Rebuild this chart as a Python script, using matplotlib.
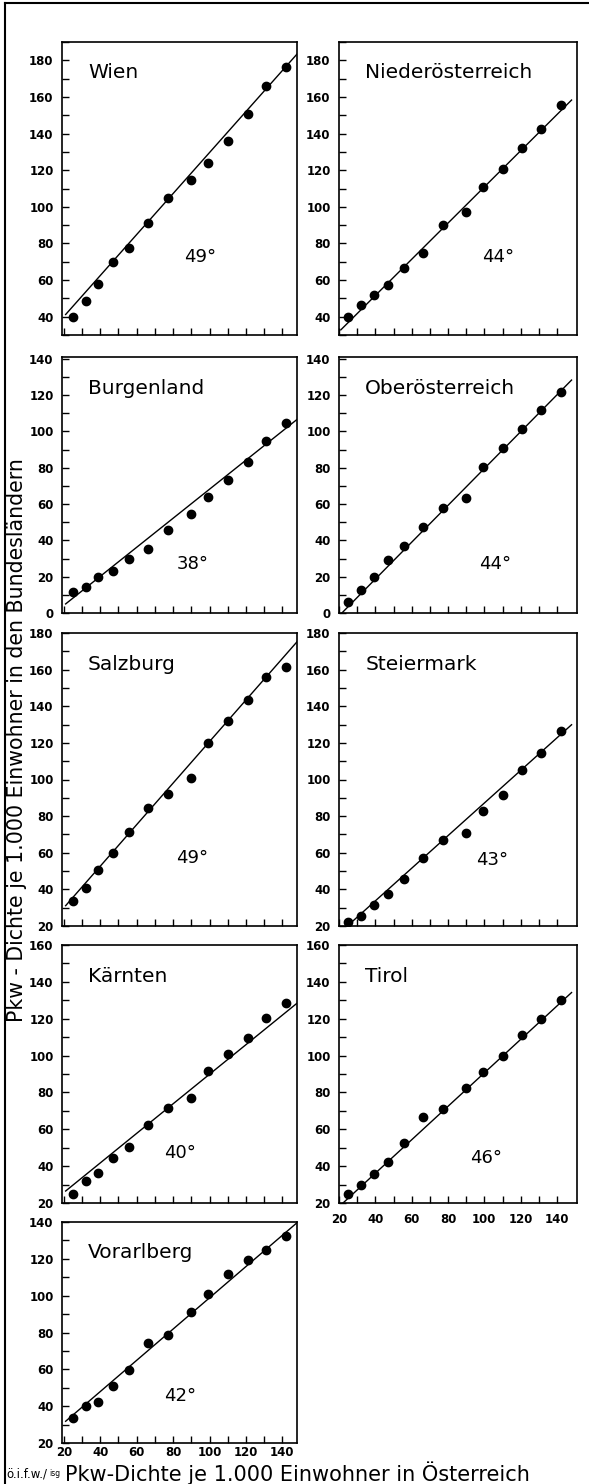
import matplotlib
matplotlib.use("Agg")
import matplotlib.pyplot as plt
from matplotlib.lines import Line2D
import numpy as np

# Pkw-Dichte Oesterreich (x) vs. Bundeslaender (y), je 1.000 Einwohner
dichte_oesterreich = [25, 32, 39, 47, 56, 66, 77, 90, 99, 110, 121, 131, 142]

regions = ["Wien", "Niederösterreich", "Burgenland", "Oberösterreich",
           "Salzburg", "Steiermark", "Kärnten", "Tirol", "Vorarlberg"]
angles = ["49°", "44°", "38°", "44°", "49°", "43°", "40°", "46°", "42°"]

wien = [40, 48.7, 58.1, 69.8, 77.4, 90.9, 105.0, 114.6, 124.0, 136.1, 150.9, 165.9, 176.4]
noe = [40, 46.3, 51.7, 57.2, 66.6, 74.9, 90.2, 97.1, 110.8, 120.4, 131.9, 142.4, 155.6]
burgenland = [11.4, 14.1, 19.7, 23.3, 29.8, 35.5, 45.6, 54.6, 63.9, 73.3, 83.0, 94.6, 104.5]
ooe = [6.3, 12.7, 20.1, 29.0, 36.8, 47.1, 57.6, 63.6, 80.6, 91.1, 101.4, 111.6, 121.7]
salzburg = [33.9, 40.5, 50.7, 59.9, 71.4, 84.4, 92.2, 100.8, 120.2, 132.1, 143.6, 155.8, 161.3]
steiermark = [22.2, 25.5, 31.5, 37.6, 45.8, 56.9, 66.8, 70.8, 82.7, 91.3, 105.0, 114.5, 126.6]
kaernten = [25.1, 32.0, 36.5, 44.2, 50.4, 62.5, 71.5, 76.9, 91.5, 101.1, 109.5, 120.2, 128.7]
tirol = [24.7, 29.6, 35.8, 42.2, 52.4, 66.9, 70.9, 82.2, 90.9, 100.0, 110.9, 119.6, 130.2]
vorarlberg = [33.5, 40.0, 42.5, 51.1, 59.5, 74.4, 78.9, 91.3, 100.7, 111.8, 119.5, 124.9, 132.2]

series = [wien, noe, burgenland, ooe, salzburg, steiermark, kaernten, tirol, vorarlberg]

# drawn trend lines (values at x=21 and x=148)
fit_x = [21, 148]
fit_start = [41.2, 32.8, 5.0, -0.6, 31.1, 16.8, 26.5, 18.9, 31.8]
fit_end = [183.4, 158.3, 106.6, 128.3, 175.2, 129.9, 128.4, 134.2, 139.6]

ylims = [(30, 190), (30, 190), (0, 141), (0, 141), (20, 180), (20, 180),
         (20, 160), (20, 160), (20, 140)]

# layout in pixels of the 589x1484 picture
W, H = 589, 1484
cols = [(62, 297), (339, 577)]
rows = [(42, 335), (357, 613), (633, 926), (945, 1203), (1222, 1443)]
xlims = [(19, 148), (21, 151)]
angle_pos = [(0.587, 0.266), (0.668, 0.266), (0.557, 0.19), (0.655, 0.19),
             (0.552, 0.232), (0.642, 0.225), (0.502, 0.194), (0.62, 0.174),
             (0.502, 0.213)]

plt.rcParams['font.family'] = 'DejaVu Sans'
fig = plt.figure(figsize=(W / 100, H / 100), dpi=100)

for i, name in enumerate(regions):
    r, c = divmod(i, 2)
    x0, x1 = cols[c]
    top, bot = rows[r]
    ax = fig.add_axes([x0 / W, 1 - bot / H, (x1 - x0) / W, (bot - top) / H])

    ax.plot(fit_x, [fit_start[i], fit_end[i]], color='black', lw=1.0)
    ax.plot(dichte_oesterreich, series[i], 'o', color='black', ms=6)

    ax.set_xlim(*xlims[c])
    ax.set_ylim(*ylims[i])
    lo, hi = ylims[i]
    ax.set_yticks(np.arange(int(np.ceil(lo / 20.0)) * 20, hi + 0.1, 20))
    ax.set_yticks(np.arange(int(np.ceil(lo / 10.0)) * 10, hi + 0.1, 10), minor=True)
    ax.set_xticks(np.arange(20, 141, 20))
    ax.set_xticks(np.arange(30, 141, 20), minor=True)

    ax.tick_params(which='both', direction='in', length=5, width=1,
                   top=False, right=False)
    ax.tick_params(axis='y', labelsize=8.5, pad=6)
    ax.tick_params(axis='x', labelsize=8.5, pad=7 if i == 7 else 2)
    for lab in ax.get_yticklabels() + ax.get_xticklabels():
        lab.set_fontweight('bold')
    bottom_panel = (i == 7 or i == 8)
    if not bottom_panel:
        ax.tick_params(axis='x', labelbottom=False)

    for sp in ax.spines.values():
        sp.set_linewidth(1.2)

    hpx = bot - top
    ax.text(0.11, 1 - 31 / hpx, name, transform=ax.transAxes,
            fontsize=14.5, va='center', ha='left')
    ax.text(angle_pos[i][0], angle_pos[i][1], angles[i], transform=ax.transAxes,
            fontsize=13, va='center', ha='center')

fig.text(17 / W, 1 - 740 / H, "Pkw - Dichte je 1.000 Einwohner in den Bundesländern",
         rotation=90, va='center', ha='center', fontsize=14.8)
fig.text(297 / W, 1 - 1473 / H, "Pkw-Dichte je 1.000 Einwohner in Österreich",
         va='center', ha='center', fontsize=15)
fig.text(6 / W, 1 - 1474 / H, "ö.i.f.w./", va='center', ha='left', fontsize=8.5)
fig.text(49 / W, 1 - 1474 / H, "isg", va='center', ha='left', fontsize=5.5)

# outer frame (top and left edge)
fig.add_artist(Line2D([5 / W, 1], [1 - 3 / H, 1 - 3 / H], color='black', lw=1.5,
                      transform=fig.transFigure))
fig.add_artist(Line2D([5 / W, 5 / W], [0, 1 - 3 / H], color='black', lw=1.5,
                      transform=fig.transFigure))

fig.savefig("out.png", dpi=100)
